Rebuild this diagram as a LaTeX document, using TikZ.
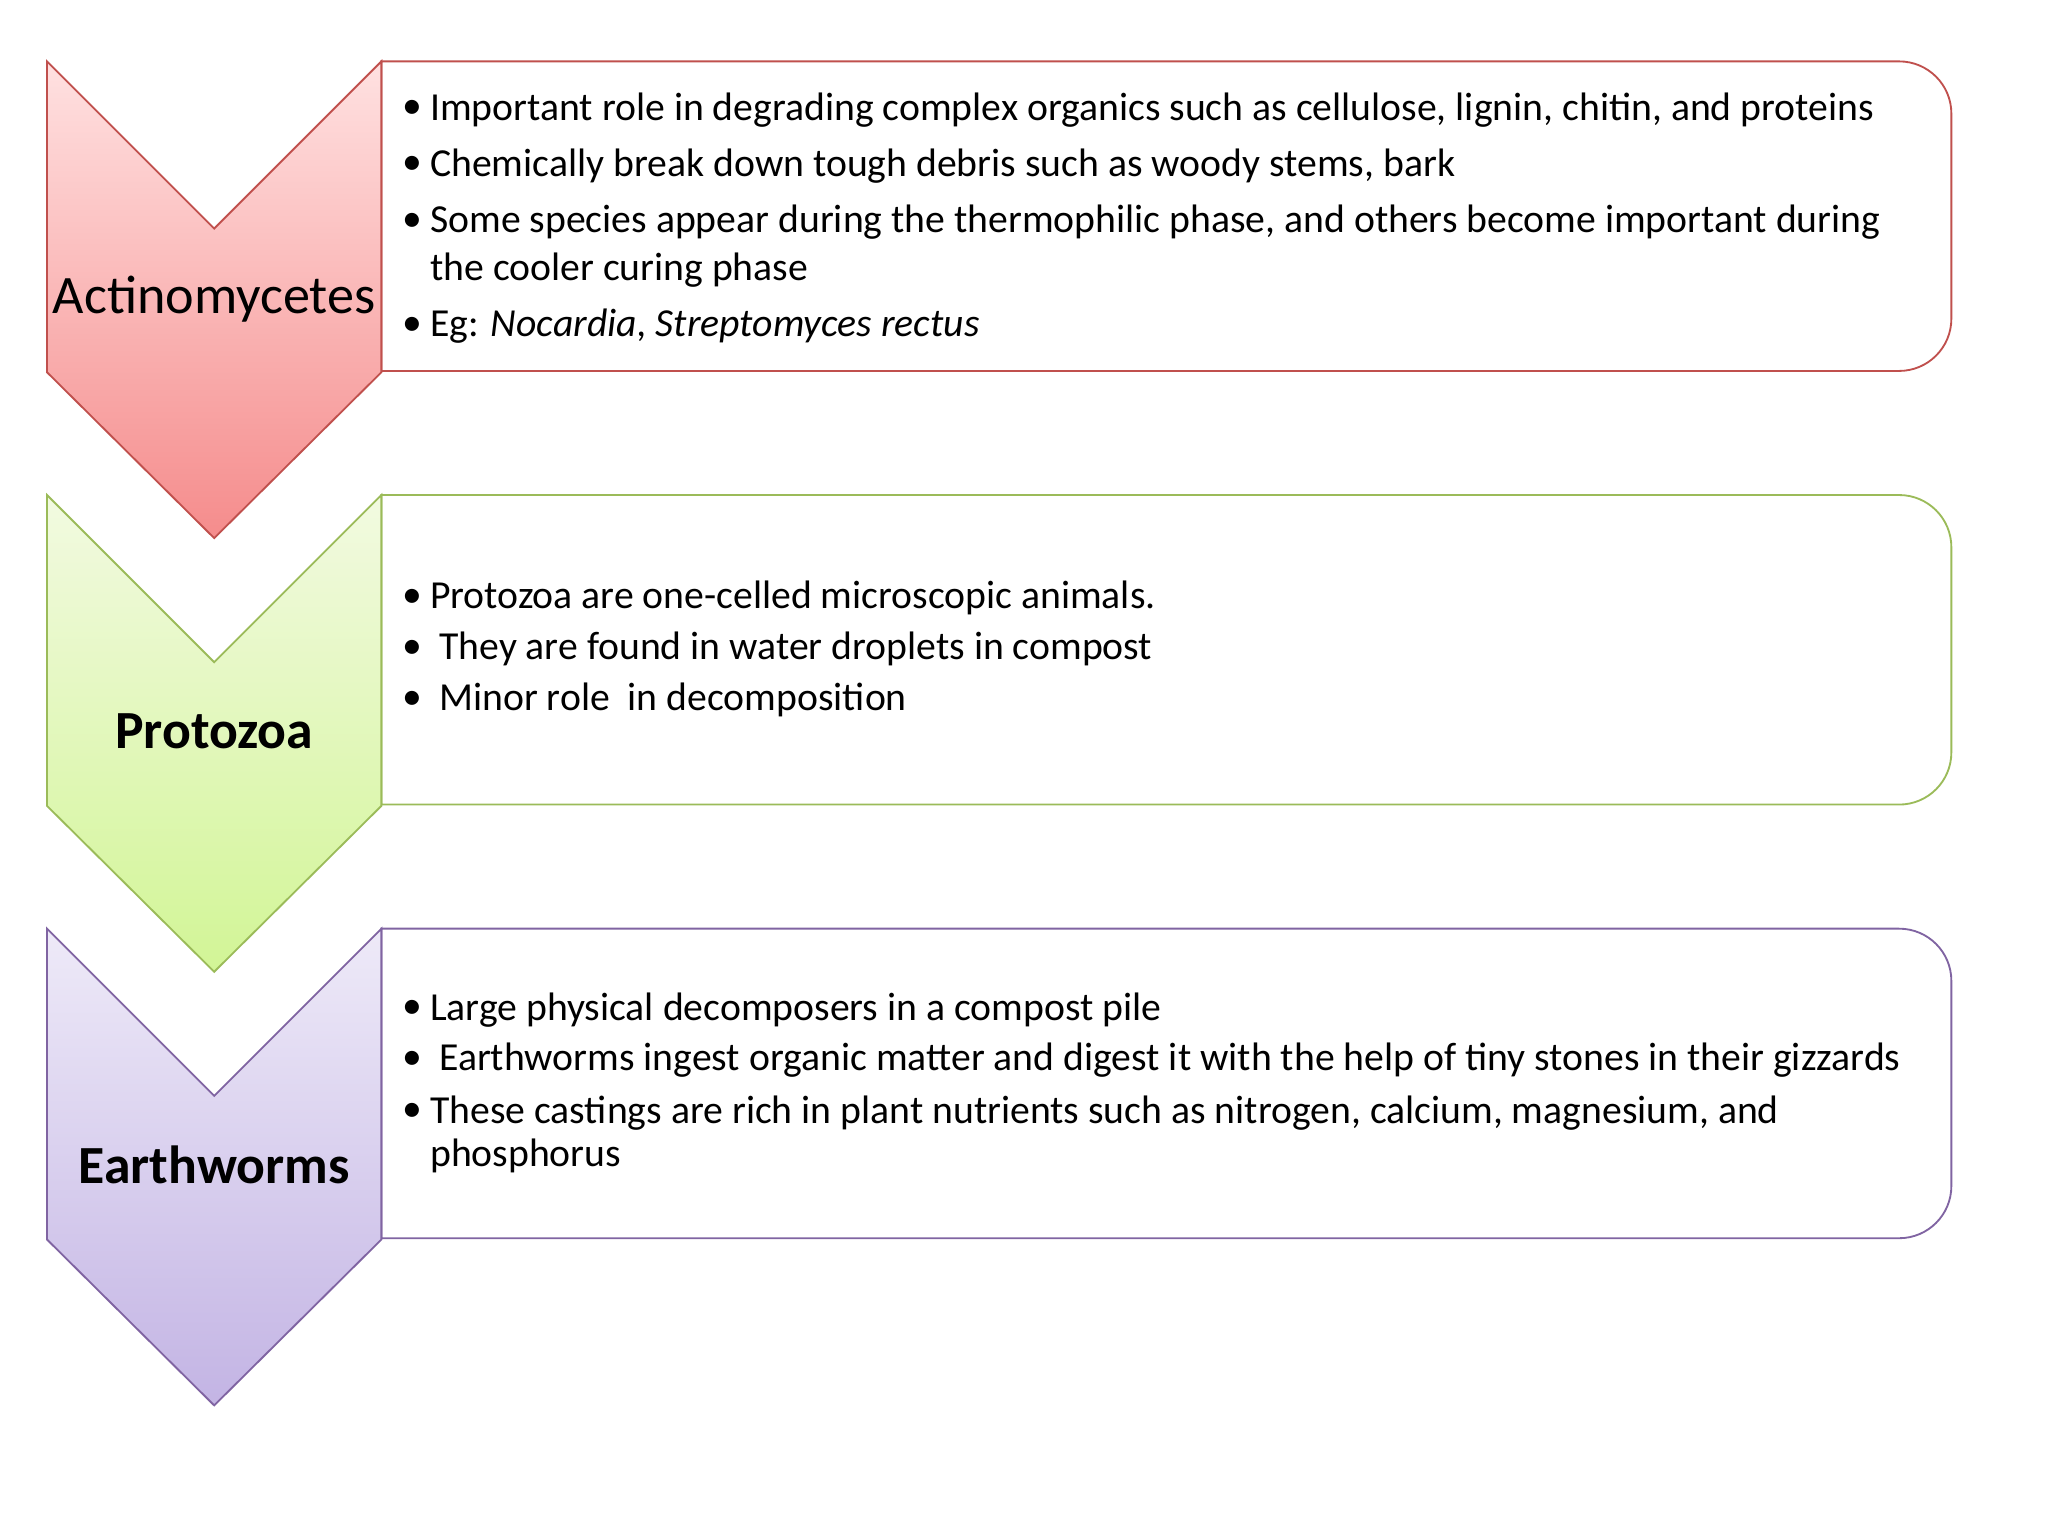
\documentclass[tikz,border=0pt]{standalone}
\usepackage{fontspec}
\setmainfont{Carlito}
\begin{document}
\begin{tikzpicture}[x=0.02cm,y=-0.02cm,
  lbl/.style={font=\fontsize{23.6}{28}\selectfont},
  lblb/.style={font=\fontsize{23.4}{28}\selectfont\bfseries},
  txt/.style={anchor=west,font=\fontsize{17.3}{21}\selectfont,inner sep=0pt,align=left},
  bul/.style={anchor=center,font=\fontsize{17.3}{21}\selectfont,inner sep=0pt}]
\useasboundingbox (0,0) rectangle (1568,1176);
\fill[white] (0,0) rectangle (1568,1176);
\definecolor{rB}{RGB}{192,80,77}\definecolor{gB}{RGB}{155,187,89}\definecolor{pB}{RGB}{128,100,162}
\foreach \o/\bc/\tc/\btc in {0/rB/{255,225,225}/{245,140,140},332/gB/{242,250,225}/{210,245,150},664/pB/{238,234,248}/{195,180,228}}{
  \definecolor{tc}{RGB}{\tc}\definecolor{btc}{RGB}{\btc}
  \draw[\bc,line width=0.8pt,fill=white] (292,47+\o) [rounded corners=0.8cm] -- (1494,47+\o) -- (1494,284+\o) [sharp corners] -- (292,284+\o) -- cycle;
  \draw[\bc,line width=0.8pt,top color=tc,bottom color=btc] (36,47+\o) -- (164,175+\o) -- (292,47+\o) -- (292,285+\o) -- (164,412+\o) -- (36,285+\o) -- cycle;
}
\node[lbl] (l1) at (164,229) {Actinomycetes};
\node[lblb] (l2) at (164,560) {Protozoa};
\node[lblb] (l3) at (164,892) {Earthworms};
% box 1
\foreach \y/\n in {84/a,127/b,170/c,250/d}{\node[bul] (b\n) at (316,\y) {•};}
\node[txt] (t1) at (329,84) {Important role in degrading complex organics such as cellulose, lignin, chitin, and proteins};
\node[txt] (t2) at (329,127) {Chemically break down tough debris such as woody stems, bark};
\node[txt] (t3) at (329,170) {Some species appear during the thermophilic phase, and others become important during};
\node[txt] (t3b) at (329,207) {the cooler curing phase};
\node[txt] (t4) at (329,250) {Eg: \textit{Nocardia, Streptomyces rectus}};
% box 2
\foreach \y/\n in {458/e,497/f,536/g}{\node[bul] (b\n) at (316,\y) {•};}
\node[txt] (t5) at (329,458) {Protozoa are one-celled microscopic animals.};
\node[txt] (t6) at (336,497) {They are found in water droplets in compost};
\node[txt] (t7) at (336,536) {Minor role\ \ in decomposition};
% box 3
\foreach \y/\n in {773/h,812/i,852/j}{\node[bul] (b\n) at (316,\y) {•};}
\node[txt] (t8) at (329,773) {Large physical decomposers in a compost pile};
\node[txt] (t9) at (336,812) {Earthworms ingest organic matter and digest it with the help of tiny stones in their gizzards};
\node[txt] (t10) at (329,852) {These castings are rich in plant nutrients such as nitrogen, calcium, magnesium, and};
\node[txt] (t10b) at (329,885) {phosphorus};
\end{tikzpicture}
\end{document}
